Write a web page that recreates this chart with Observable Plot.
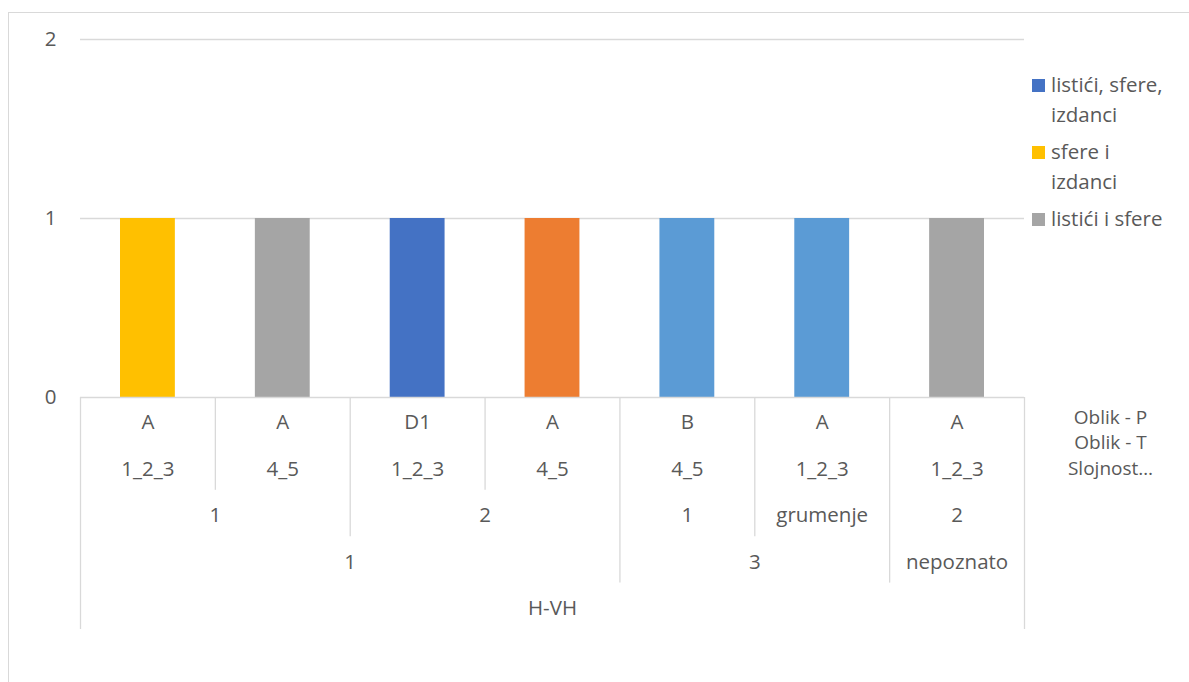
<!DOCTYPE html>
<html>
<head>
<meta charset="utf-8">
<script src="https://cdn.jsdelivr.net/npm/d3@7"></script>
<script src="https://cdn.jsdelivr.net/npm/@observablehq/plot@0.6"></script>
<style>
  html, body { margin: 0; padding: 0; background: #fff; overflow: hidden; }
  #wrap { position: relative; width: 1189px; height: 682px; font-family: "Open Sans", sans-serif; color: #595959; }
  #border { position: absolute; left: 8px; top: 12px; width: 1400px; height: 900px; border-left: 1.5px solid #d9d9d9; border-top: 1.5px solid #d9d9d9; pointer-events: none; }
  #legend { position: absolute; left: 1032px; top: 70px; font-size: 20.5px; line-height: 29.5px; }
  .entry { display: flex; align-items: flex-start; margin-bottom: 8px; }
  .sw { width: 13px; height: 13px; margin-top: 9px; margin-right: 6px; flex: none; }
  .lbl { white-space: pre-line; }
  svg { position: absolute; left: 0; top: 0; }
</style>
</head>
<body>
<div id="wrap"><div id="border"></div><div id="legend"></div></div>
<script>
// ---- data ----
const levelP = ["A", "A", "D1", "A", "B", "A", "A"];                 // Oblik - P
const levelT = ["1_2_3", "4_5", "1_2_3", "4_5", "4_5", "1_2_3", "1_2_3"]; // Oblik - T
const levelS = ["1", "1", "2", "2", "1", "grumenje", "2"];         // Slojnost…
const level4 = ["1", "1", "1", "1", "3", "3", "nepoznato"];
const level5 = ["H-VH", "H-VH", "H-VH", "H-VH", "H-VH", "H-VH", "H-VH"];
const values = [1, 1, 1, 1, 1, 1, 1];
const barSeries = ["sfere i izdanci", "listići i sfere", "listići, sfere, izdanci", "serija 2", "serija 5", "serija 5", "listići i sfere"];
const seriesNames = ["listići, sfere, izdanci", "serija 2", "listići i sfere", "sfere i izdanci", "serija 5"];
const seriesColors = ["#4472C4", "#ED7D31", "#A5A5A5", "#FFC000", "#5B9BD5"];
const legendNames = ["listići, sfere, izdanci", "sfere i izdanci", "listići i sfere"];
const legendText = ["listići, sfere,\nizdanci", "sfere i\nizdanci", "listići i sfere"];
const levelNames = ["Oblik - P", "Oblik - T", "Slojnost…"];
const yTickCount = 2;

// ---- layout constants (styling) ----
const W = 1189, H = 682;
const mTop = 39, mBottom = 285, mLeft = 80, mRight = 165;
const frameH = H - mTop - mBottom;
const rowH = 46.4;
const rowDy = [31, 78, 124, 171, 217];
const nameDy = [26, 51.5, 77];
const grid = "#d9d9d9";

const rows = [levelP, levelT, levelS, level4, level5];
const n = levelP.length;
const bars = values.map((v, i) => ({i, value: v, series: barSeries[i]}));

// group spans per axis row
const keyAt = (r, i) => rows.slice(r).map(a => a[i]).join("|");
const spans = rows.map((arr, r) => {
  const out = [];
  let s = 0;
  for (let i = 1; i <= n; i++) {
    if (i === n || keyAt(r, i) !== keyAt(r, s)) {
      out.push({mid: (s + i) / 2, label: arr[s]});
      s = i;
    }
  }
  return out;
});
// separator depth for each boundary
const bounds = d3.range(n + 1).map(b => {
  let depth = rows.length;
  if (b > 0 && b < n) {
    depth = 0;
    for (let r = 0; r < rows.length; r++) if (keyAt(r, b - 1) !== keyAt(r, b)) depth = r + 1;
  }
  return {b, depth};
});

const marks = [
  Plot.ruleY([1, 2], {stroke: grid, strokeWidth: 1.3}),
  Plot.rectY(bars, {x1: d => d.i, x2: d => d.i + 1, y: "value", fill: "series", insetLeft: 40, insetRight: 40}),
  Plot.ruleY([0], {stroke: grid, strokeWidth: 1.3}),
  ...d3.range(1, rows.length + 1).map(k =>
    Plot.ruleX(bounds.filter(d => d.depth === k), {x: "b", stroke: grid, strokeWidth: 1.3, insetTop: frameH, insetBottom: -k * rowH})
  ),
  ...spans.map((sp, r) => Plot.text(sp, {x: "mid", text: "label", frameAnchor: "bottom", dy: rowDy[r], fill: "#595959"})),
  ...levelNames.map((t, j) => Plot.text([t], {text: d => d, frameAnchor: "bottom-right", dx: 86, dy: nameDy[j], textAnchor: "middle", fill: "#595959", fontSize: 19}))
];

const chart = Plot.plot({
  width: W, height: H,
  marginTop: mTop, marginBottom: mBottom, marginLeft: mLeft, marginRight: mRight,
  style: {fontFamily: "Open Sans, sans-serif", fontSize: "20.5px", color: "#595959", background: "transparent", overflow: "visible"},
  x: {domain: [0, n], axis: null},
  y: {domain: [0, 2], ticks: yTickCount, tickFormat: "d", tickSize: 0, tickPadding: 24, label: null},
  color: {domain: seriesNames, range: seriesColors},
  marks
});
document.getElementById("wrap").appendChild(chart);

// legend (shown entries only)
const leg = document.getElementById("legend");
legendNames.forEach((name, j) => {
  const e = document.createElement("div");
  e.className = "entry";
  const sw = document.createElement("div");
  sw.className = "sw";
  sw.style.background = seriesColors[seriesNames.indexOf(name)];
  const lb = document.createElement("div");
  lb.className = "lbl";
  lb.textContent = legendText[j];
  e.appendChild(sw); e.appendChild(lb);
  leg.appendChild(e);
});
</script>
</body>
</html>
